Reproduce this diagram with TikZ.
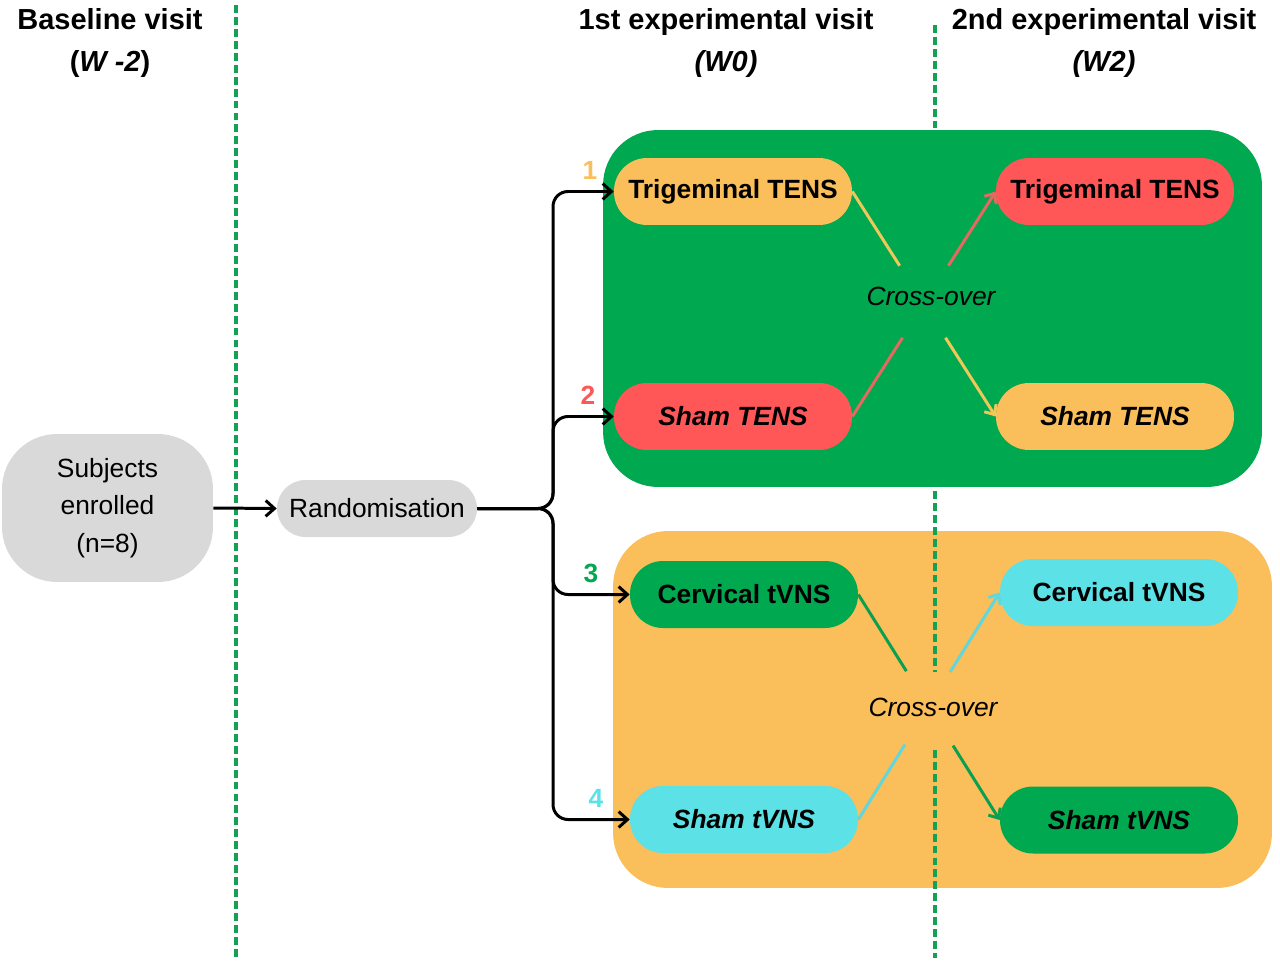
\documentclass[tikz,border=0pt]{standalone}
\usepackage{fontspec}
\setmainfont{Liberation Sans}
\usetikzlibrary{arrows.meta,calc}
\definecolor{bgreen}{RGB}{0,168,80}
\definecolor{borange}{RGB}{250,190,90}
\definecolor{bred}{RGB}{255,87,87}
\definecolor{bcyan}{RGB}{92,225,230}
\definecolor{bgray}{RGB}{217,217,217}
\definecolor{dgreen}{RGB}{20,160,85}
\definecolor{lorange}{RGB}{240,200,90}
\definecolor{lred}{RGB}{230,105,95}
\definecolor{lgreen}{RGB}{10,160,80}
\definecolor{lcyan}{RGB}{95,215,220}
\begin{document}
\begin{tikzpicture}[x=0.02cm,y=-0.02cm,
  hdr/.style={font=\bfseries\fontsize{16.5}{23.8}\selectfont,align=center},
  pill/.style={rectangle,rounded corners=0.66cm,minimum width=4.76cm,minimum height=1.34cm,inner sep=0pt,font=\bfseries\fontsize{15}{18}\selectfont},
  ipill/.style={pill,font=\bfseries\itshape\fontsize{15}{18}\selectfont},
  graybox/.style={fill=bgray,inner sep=0pt,font=\fontsize{15}{21.3}\selectfont,align=center},
  vdash/.style={draw=dgreen,line width=1.8pt,dash pattern=on 4.5pt off 2.3pt},
  blk/.style={draw=black,line width=1.7pt,rounded corners=0.3cm,-{Straight Barb[length=5pt,width=9pt]}},
  cline/.style={line width=1.7pt},
  carr/.style={line width=1.7pt,-{Straight Barb[length=4.5pt,width=8pt]}},
  num/.style={font=\bfseries\fontsize{15}{18}\selectfont},
  xo/.style={font=\itshape\fontsize{15}{18}\selectfont}]
\useasboundingbox (0,0) rectangle (1280,963);
% headers
\node[hdr] (h1) at (110,43) {Baseline visit\\(\textit{W -2})};
\node[hdr] (h2) at (726,43) {1st experimental visit\\\textit{(W0)}};
\node[hdr] (h3) at (1104,43) {2nd experimental visit\\\textit{(W2)}};
% orange box
\node[fill=borange,rounded corners=1.1cm,minimum width=13.18cm,minimum height=7.14cm,inner sep=0pt] (ob) at (942.5,709.5) {};
% dashed lines
\draw[vdash] (236,5) -- (236,958);
\draw[vdash] (935,25) -- (935,672);
\draw[vdash] (935,750) -- (935,958);
% green box
\node[fill=bgreen,rounded corners=1.1cm,minimum width=13.18cm,minimum height=7.14cm,inner sep=0pt] (gb) at (932.5,308.5) {};
% left nodes
\node[graybox,rounded corners=1.1cm,minimum width=4.22cm,minimum height=2.96cm] (subj) at (107.5,508) {Subjects\\enrolled\\(n=8)};
\node[graybox,rounded corners=0.57cm,minimum width=4.0cm,minimum height=1.14cm] (rand) at (377,508.5) {Randomisation};
% green group nodes
\node[pill,fill=borange] (tl) at (733,191.5) {Trigeminal TENS};
\node[ipill,fill=bred] (sl) at (733,416.5) {Sham TENS};
\node[pill,fill=bred] (tr) at (1115,191.5) {Trigeminal TENS};
\node[ipill,fill=borange] (sr) at (1115,416.5) {Sham TENS};
% orange group nodes
\node[pill,fill=bgreen,minimum width=4.56cm] (cl) at (744,594.5) {Cervical tVNS};
\node[ipill,fill=bcyan,minimum width=4.56cm] (vl) at (744,819.5) {Sham tVNS};
\node[pill,fill=bcyan] (cr) at (1119,592.5) {Cervical tVNS};
\node[ipill,fill=bgreen] (vr) at (1119,820) {Sham tVNS};
% cross-over labels
\node[xo] (x1) at (931,296) {Cross-over};
\node[xo] (x2) at (933,707) {Cross-over};
% numbers
\node[num,text=borange] (n1) at (590,170) {1};
\node[num,text=bred] (n2) at (588,395) {2};
\node[num,text=bgreen] (n3) at (591,573) {3};
\node[num,text=bcyan] (n4) at (596,798) {4};
% black connectors
\draw[blk] (subj.east) -- (rand.west);
\draw[blk] (rand.east) -- (553,508.5) -- (553,191.5) -- (tl.west);
\draw[blk] (rand.east) -- (553,508.5) -- (553,416.5) -- (sl.west);
\draw[blk] (rand.east) -- (553,508.5) -- (553,594.5) -- (cl.west);
\draw[blk] (rand.east) -- (553,508.5) -- (553,819.5) -- (vl.west);
% cross-over lines green box
\draw[cline,lorange] (tl.east) -- ($(tl.east)!0.33!(sr.west)$);
\draw[carr,lorange] ($(tl.east)!0.65!(sr.west)$) -- (sr.west);
\draw[cline,lred] (sl.east) -- ($(sl.east)!0.35!(tr.west)$);
\draw[carr,lred] ($(sl.east)!0.67!(tr.west)$) -- (tr.west);
% cross-over lines orange box
\draw[cline,lgreen] (cl.east) -- ($(cl.east)!0.34!(vr.west)$);
\draw[carr,lgreen] ($(cl.east)!0.67!(vr.west)$) -- (vr.west);
\draw[cline,lcyan] (vl.east) -- ($(vl.east)!0.33!(cr.west)$);
\draw[carr,lcyan] ($(vl.east)!0.65!(cr.west)$) -- (cr.west);
\end{tikzpicture}
\end{document}
